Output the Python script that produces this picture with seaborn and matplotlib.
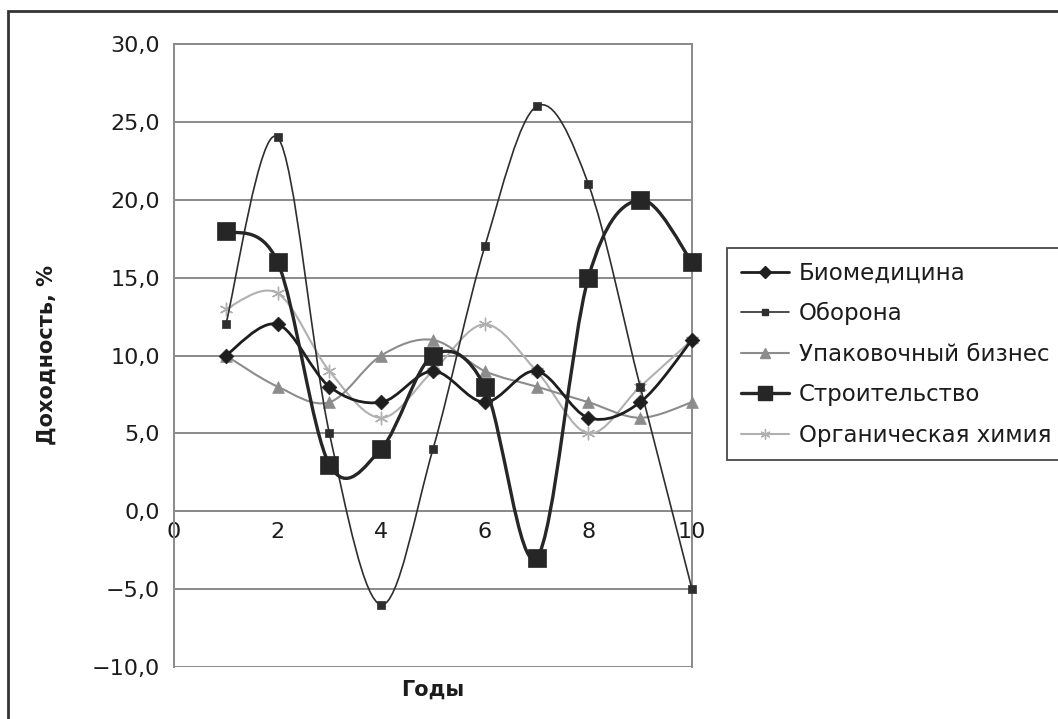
import numpy as np
import pandas as pd
import matplotlib
matplotlib.use("Agg")
import matplotlib.pyplot as plt
import seaborn as sns
from matplotlib.path import Path
from matplotlib.patches import PathPatch, Rectangle
from matplotlib.lines import Line2D
from matplotlib.ticker import FuncFormatter

# Годы наблюдения
years = [1, 2, 3, 4, 5, 6, 7, 8, 9, 10]

# Доходность по отраслям, %
biomed = [10, 12, 8, 7, 9, 7, 9, 6, 7, 11]
defense = [12, 24, 5, -6, 4, 17, 26, 21, 8, -5]
packaging = [10, 8, 7, 10, 11, 9, 8, 7, 6, 7]
construction = [18, 16, 3, 4, 10, 8, -3, 15, 20, 16]
organic = [13, 14, 9, 6, 9, 12, 9, 5, 8, 11]

names = ["Биомедицина", "Оборона", "Упаковочный бизнес",
         "Строительство", "Органическая химия"]
values = [biomed, defense, packaging, construction, organic]

y_ticks = [-10, -5, 0, 5, 10, 15, 20, 25, 30]
x_ticks = [0, 2, 4, 6, 8, 10]

sns.set_style("white")
plt.rcParams["font.family"] = ["DejaVu Sans"]
plt.rcParams["axes.unicode_minus"] = True

TEXT_C = "#1c1c1c"
FS = 16

styles = {
    "Биомедицина": dict(color="#1e1e1e", lw=2.0, marker="D", ms=7.5, z=4),
    "Оборона": dict(color="#2e2e2e", lw=1.2, marker="s", ms=5.5, z=3),
    "Упаковочный бизнес": dict(color="#8c8c8c", lw=1.5, marker="^", ms=8.5, z=2),
    "Строительство": dict(color="#262626", lw=2.4, marker="s", ms=12.5, z=5),
    "Органическая химия": dict(color="#b0b0b0", lw=1.5, marker=(6, 2, 0), ms=9.0, z=1),
}

df = pd.concat(
    [pd.DataFrame({"Год": years, "Доходность": v, "Отрасль": n})
     for n, v in zip(names, values)],
    ignore_index=True,
)

fig = plt.figure(figsize=(10.58, 7.19), dpi=100)
W, H = 1058, 719
ax = fig.add_axes([174 / W, 1 - 667 / H, (692 - 174) / W, (667 - 44) / H])


def smooth_path(xs, ys):
    """Cubic Bezier path through the points (Catmull-Rom style control points)."""
    pts = np.column_stack([xs, ys]).astype(float)
    n = len(pts)
    verts = [pts[0]]
    codes = [Path.MOVETO]
    for i in range(n - 1):
        p0 = pts[i - 1] if i > 0 else pts[i]
        p1 = pts[i]
        p2 = pts[i + 1]
        p3 = pts[i + 2] if i + 2 < n else pts[i + 1]
        c1 = p1 + (p2 - p0) / 6.0
        c2 = p2 - (p3 - p1) / 6.0
        verts += [c1, c2, p2]
        codes += [Path.CURVE4] * 3
    return Path(verts, codes)


for name in names:
    st = styles[name]
    sub = df[df["Отрасль"] == name]
    patch = PathPatch(smooth_path(sub["Год"], sub["Доходность"]),
                      facecolor="none", edgecolor=st["color"], lw=st["lw"],
                      zorder=st["z"], clip_on=False, capstyle="round")
    ax.add_patch(patch)
    sns.scatterplot(data=sub, x="Год", y="Доходность", ax=ax,
                    marker=st["marker"], s=st["ms"] ** 2, color=st["color"],
                    edgecolor=st["color"],
                    linewidth=1.0 if st["marker"] == (6, 2, 0) else 0.5,
                    zorder=st["z"] + 0.5, clip_on=False, legend=False)

ax.set_xlim(0, 10)
ax.set_ylim(-10, 30)
ax.set_xticks(x_ticks)
ax.set_yticks(y_ticks)
ax.yaxis.set_major_formatter(
    FuncFormatter(lambda v, p: f"{v:.1f}".replace(".", ",").replace("-", "\u2212")))
ax.xaxis.set_major_formatter(FuncFormatter(lambda v, p: f"{v:.0f}"))
ax.set_xlabel("")
ax.set_ylabel("")

grid_c = "#8a8a8a"
ax.yaxis.grid(True, color=grid_c, lw=1.4)
ax.xaxis.grid(False)
ax.set_axisbelow(True)

ax.spines["bottom"].set_position(("data", 0))
for s in ["bottom", "left", "right", "top"]:
    ax.spines[s].set_color(grid_c)
    ax.spines[s].set_linewidth(1.4)

ax.tick_params(axis="both", which="major", width=1.2, color=grid_c,
               direction="out", labelsize=FS, labelcolor=TEXT_C)
ax.tick_params(axis="x", length=4, pad=4)
ax.tick_params(axis="y", length=8, pad=2)

fig.text(47 / W, 1 - 355 / H, "Доходность, %", rotation=90, ha="center",
         va="center", fontsize=15, fontweight="bold", color=TEXT_C)
fig.text(433 / W, 1 - 690 / H, "Годы", ha="center", va="center",
         fontsize=15, fontweight="bold", color=TEXT_C)

handles = [Line2D([0], [0], color=styles[n]["color"], lw=styles[n]["lw"],
                  marker=styles[n]["marker"], markersize=styles[n]["ms"] * 0.8,
                  markerfacecolor=styles[n]["color"],
                  markeredgecolor=styles[n]["color"]) for n in names]
leg = fig.legend(handles, names, loc="upper left",
                 bbox_to_anchor=(727 / W, 1 - 248 / H),
                 bbox_transform=fig.transFigure, fontsize=16.5,
                 frameon=True, fancybox=False, edgecolor=TEXT_C,
                 handlelength=2.1, handletextpad=0.45, labelspacing=0.76,
                 borderpad=0.6, borderaxespad=0)
leg.get_frame().set_linewidth(1.3)
for t in leg.get_texts():
    t.set_color(TEXT_C)

# Outer frame around the figure
fig.patches.append(Rectangle((8 / W, -0.05), 1.2, 1 - 11 / H + 0.05,
                             transform=fig.transFigure, fill=False,
                             edgecolor="#333333", lw=2.0))

fig.savefig("out.png", dpi=100)
